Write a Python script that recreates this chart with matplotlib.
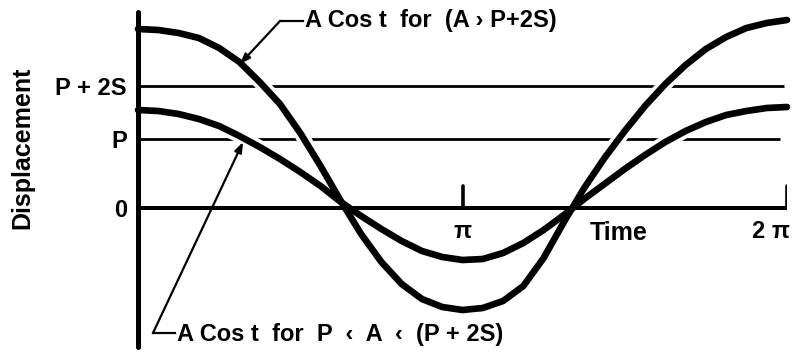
import numpy as np
import matplotlib.pyplot as plt

plt.rcParams['font.family'] = ['Liberation Sans', 'DejaVu Sans']
plt.rcParams['font.weight'] = 'bold'

# sample times, in multiples of pi/16 over one full period
t = np.arange(33) * np.pi / 16

# displacement of the two cosine curves at those times
disp_large = [17.9, 17.8, 17.5, 17.0, 16.0, 14.6, 12.6, 10.4, 7.5, 4.2, 0.7,
              -2.6, -5.4, -7.6, -9.1, -9.9, -10.2, -10.0, -9.3, -7.8, -5.0,
              -1.4, 2.0, 5.0, 7.7, 10.2, 12.4, 14.3, 15.9, 17.1, 18.0, 18.5,
              18.8]
disp_small = [9.8, 9.7, 9.4, 8.9, 8.2, 7.2, 6.1, 4.9, 3.6, 2.2, 0.6,
              -0.8, -2.1, -3.3, -4.3, -4.9, -5.2, -5.1, -4.5, -3.5, -2.2,
              -0.7, 0.9, 2.4, 3.9, 5.3, 6.6, 7.7, 8.6, 9.3, 9.7, 10.0, 10.1]

# reference levels on the displacement axis
levels = [12.2, 6.9, 0.0]
level_labels = ['P + 2S', 'P', '0']

time_ticks = [np.pi, 2 * np.pi]

fig = plt.figure(figsize=(8.05, 3.57), dpi=100)
ax = fig.add_axes([138 / 805, 10 / 357, 649 / 805, 335 / 357])
ax.set_xlim(0, 2 * np.pi)
ax.set_ylim(-13.9, 19.6)

for s in ['top', 'right', 'bottom']:
    ax.spines[s].set_visible(False)
ax.spines['left'].set_linewidth(3.6)
ax.spines['left'].set_capstyle('round')
ax.spines['left'].set_zorder(6)

ax.set_xticks([])
ax.set_yticks(levels, level_labels, fontsize=17)
ax.tick_params(axis='y', length=0, pad=8)

# P and P+2S levels (broken where the curves pass over them)
ax.hlines(levels[:2], 0.02, [6.25, 6.22], color='k', lw=2.0, zorder=1)

# time axis with tick marks at pi and 2pi
ax.axhline(0, color='k', lw=2.9, zorder=5, solid_capstyle='butt')
ax.vlines(time_ticks, 0, 2.2, color='k', lw=2.6, zorder=5, capstyle='round')
ax.text(np.pi, -2.4, 'π', ha='center', va='center', fontsize=17)
ax.text(2 * np.pi + 0.03, -2.4, '2 π', ha='right', va='center', fontsize=17)
ax.text(4.65, -2.5, 'Time', ha='center', va='center', fontsize=18)

for d in (disp_large, disp_small):
    ax.plot(t, d, color='white', lw=10, zorder=2, clip_on=False,
            solid_capstyle='round')
for d in (disp_large, disp_small):
    ax.plot(t, d, color='k', lw=4.8, zorder=3, clip_on=False,
            solid_capstyle='round', solid_joinstyle='round')

fig.text(22 / 805, 1 - 148 / 357, 'Displacement', rotation=90,
         ha='center', va='center', fontsize=18)

# leader to the large-amplitude curve
arrow = dict(arrowstyle='-|>,head_length=0.6,head_width=0.22', color='k',
             lw=1.6, shrinkA=0, shrinkB=0)
ax.annotate('', xy=(0.987, 14.4), xytext=(1.375, 18.7), arrowprops=arrow,
            zorder=4)
ax.plot([1.375, 1.60], [18.7, 18.7], color='k', lw=1.6, clip_on=False)
ax.text(1.62, 18.7, 'A Cos t  for  (A › P+2S)', ha='left', va='center',
        fontsize=17)

# leader to the smaller curve
ax.annotate('', xy=(1.017, 6.6), xytext=(0.145, -12.5), arrowprops=arrow,
            zorder=4)
ax.plot([0.145, 0.36], [-12.5, -12.5], color='k', lw=1.6, clip_on=False)
ax.text(0.38, -12.7, 'A Cos t  for  P  ‹  A  ‹  (P + 2S)', ha='left',
        va='center', fontsize=17)

fig.savefig('out.png', dpi=100, facecolor='white')
